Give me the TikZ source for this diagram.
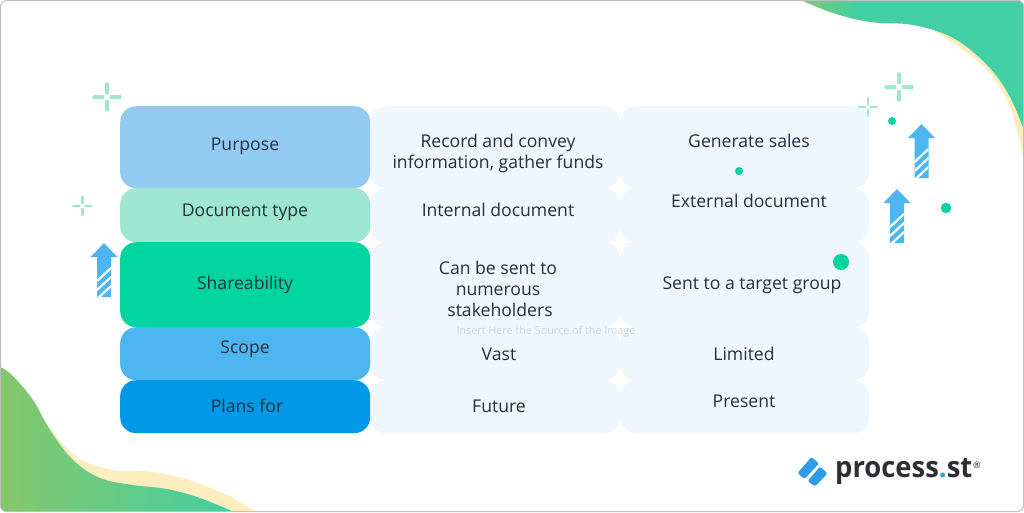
\documentclass[tikz,border=0pt]{standalone}
\usepackage{fontspec}
\setmainfont{Open Sans}
\definecolor{ink}{HTML}{22303F}
\definecolor{cellbg}{HTML}{EFF6FD}
\definecolor{rowa}{HTML}{93CAF1}
\definecolor{rowb}{HTML}{9EE6D0}
\definecolor{rowc}{HTML}{00D4A0}
\definecolor{rowd}{HTML}{4DB6F1}
\definecolor{rowe}{HTML}{0099E8}
\definecolor{cream}{HTML}{FEEDBF}
\definecolor{gA}{HTML}{86C76B}
\definecolor{gB}{HTML}{42CFA3}
\definecolor{logoblue}{HTML}{2F9BE6}
\definecolor{logoink}{HTML}{2E2F33}
\definecolor{srctext}{HTML}{CBD6E2}
\pgfdeclarehorizontalshading{trshade}{100bp}{color(0bp)=(gA); color(25bp)=(gA); color(38bp)=(gB); color(100bp)=(gB)}
\pgfdeclarehorizontalshading{blshade}{100bp}{color(0bp)=(gA); color(25bp)=(gA); color(75bp)=(gB); color(100bp)=(gB)}
\tikzset{
  cellbox/.style={rounded corners=16pt, inner sep=0pt, anchor=north west},
  lbl/.style={font=\fontsize{17.6}{20}\selectfont, text=ink, anchor=base, inner sep=0pt},
  spark/.style={draw=rowb, line cap=round},
  dot/.style={circle, fill=rowc, inner sep=0pt},
}
\newcommand{\upArrow}[2]{%
  \begin{scope}[shift={(#1,#2)}]
    \fill[rowd] (0,0) -- (13.5,14) -- (7,14) -- (7,54) -- (-7,54) -- (-7,14) -- (-13.5,14) -- cycle;
    \begin{scope}
      \clip (-7,14) rectangle (7,54);
      \foreach \s in {38,47,56}{\draw[white, line width=2.2pt] (-7,\s) -- (7,\s-13);}
    \end{scope}
  \end{scope}}
% #3 = arm reach, #4 = stroke width in pt
\newcommand{\sparkle}[4]{%
  \begin{scope}[shift={(#1,#2)}]
    \draw[spark, line width=#4pt] (0,-#3) -- (0,-#3*0.32) (0,#3) -- (0,#3*0.32) (-#3,0) -- (-#3*0.32,0) (#3,0) -- (#3*0.32,0);
  \end{scope}}
\begin{document}
\begin{tikzpicture}[x=1pt,y=-1pt]
\useasboundingbox (0,0) rectangle (1024,512);
\fill[white] (0,0) rectangle (1024,512);
\begin{scope}
  \clip[rounded corners=6pt] (0.5,0.5) rectangle (1023.5,511.5);
  % cream under-shapes
  \fill[cream] plot[smooth,tension=0.6] coordinates {(33,400) (50,428) (77,457) (113,470) (143,471) (183,478) (227,495) (260,514)} -- (0,514) -- cycle;
  \fill[cream] plot[smooth,tension=0.6] coordinates {(935,32) (980,63) (1007,100) (1018,135) (1026,170)} -- (1026,0) -- (935,0) -- cycle;
  % green shapes
  \path[shading=blshade] plot[smooth,tension=0.6] coordinates {(-2,366) (12,375) (33,400) (50,430) (73,460) (100,478) (133,485) (167,489) (200,498) (239,514)} -- (-2,514) -- cycle;
  \path[shading=trshade] plot[smooth,tension=0.6] coordinates {(796,-2) (833,13) (870,22) (913,25) (953,38) (987,65) (1010,97) (1026,136)} -- (1026,-2) -- cycle;
\end{scope}
% column 3 and 2 cells
\node[cellbox, fill=cellbg, minimum width=250pt, minimum height=82pt] (b1) at (370,106) {};
\node[cellbox, fill=cellbg, minimum width=250pt, minimum height=54pt] (b2) at (370,188) {};
\node[cellbox, fill=cellbg, minimum width=250pt, minimum height=85pt] (b3) at (370,242) {};
\node[cellbox, fill=cellbg, minimum width=250pt, minimum height=53pt] (b4) at (370,327) {};
\node[cellbox, fill=cellbg, minimum width=250pt, minimum height=53pt] (b5) at (370,380) {};
\node[cellbox, fill=cellbg, minimum width=249pt, minimum height=82pt] (c1) at (620,106) {};
\node[cellbox, fill=cellbg, minimum width=249pt, minimum height=54pt] (c2) at (620,188) {};
\node[cellbox, fill=cellbg, minimum width=249pt, minimum height=85pt] (c3) at (620,242) {};
\node[cellbox, fill=cellbg, minimum width=249pt, minimum height=53pt] (c4) at (620,327) {};
\node[cellbox, fill=cellbg, minimum width=249pt, minimum height=53pt] (c5) at (620,380) {};
% first column
\node[cellbox, fill=rowa, minimum width=250pt, minimum height=82pt] (a1) at (120,106) {};
\node[cellbox, fill=rowb, minimum width=250pt, minimum height=54pt] (a2) at (120,188) {};
\node[cellbox, fill=rowc, minimum width=250pt, minimum height=85pt] (a3) at (120,242) {};
\node[cellbox, fill=rowd, minimum width=250pt, minimum height=53pt] (a4) at (120,327) {};
\node[cellbox, fill=rowe, minimum width=250pt, minimum height=53pt] (a5) at (120,380) {};
% labels
\node[lbl] (t1) at (245,150) {Purpose};
\node[lbl] (t2) at (245,216) {Document type};
\node[lbl] (t3) at (245,289) {Shareability};
\node[lbl] (t4) at (245,353) {Scope};
\node[lbl] (t5) at (247,412) {Plans for};
\node[lbl] (u1a) at (498,147) {Record and convey};
\node[lbl] (u1b) at (498,168) {information, gather funds};
\node[lbl] (u2) at (498,216) {Internal document};
\node[lbl] (u3a) at (498,274) {Can be sent to};
\node[lbl] (u3b) at (498,295) {numerous};
\node[lbl] (u3c) at (500,316) {stakeholders};
\node[lbl] (u4) at (499,360) {Vast};
\node[lbl] (u5) at (499,412) {Future};
\node[lbl] (v1) at (749,147) {Generate sales};
\node[lbl] (v2) at (749,207) {External document};
\node[lbl] (v3) at (752,289) {Sent to a target group};
\node[lbl] (v4) at (744,360) {Limited};
\node[lbl] (v5) at (744,407) {Present};
\node[anchor=base, inner sep=0pt, font=\fontsize{10.8}{13}\selectfont, text=srctext] (src) at (546,334) {Insert Here the Source of the Image};
% decorations
\sparkle{107}{97}{13}{3.2}
\sparkle{82.5}{206}{9}{2.6}
\sparkle{899}{87}{13}{3.2}
\sparkle{868}{107}{9}{2.6}
\upArrow{104}{243}
\upArrow{921.5}{124}
\upArrow{897}{189}
\node[dot, minimum size=8pt] (d1) at (892,121) {};
\node[dot, minimum size=8pt] (d2) at (739,171) {};
\node[dot, minimum size=10.5pt] (d3) at (946,208) {};
\node[dot, minimum size=16pt] (d4) at (841,262) {};
% logo
\fill[logoblue, rounded corners=1.6pt] (797.5,473) -- (811.5,457) -- (819,463.5) -- (804.5,479) -- cycle;
\fill[logoblue, rounded corners=1.6pt] (807.5,481) -- (820,466.5) -- (827.5,473.5) -- (815,486.5) -- cycle;
\node[anchor=base west, inner sep=0pt, font=\fontsize{29}{32}\selectfont\bfseries, text=logoink, xscale=0.945] (logo) at (835,477) {process\textcolor{logoblue}{.}st};
\node[anchor=base west, inner sep=0pt, font=\fontsize{9}{10}\selectfont, text=logoink] (reg) at (973,468) {®};
% frame
\draw[black!25!white, line width=1pt, rounded corners=6pt] (0.5,0.5) rectangle (1023.5,511.5);
\end{tikzpicture}
\end{document}
